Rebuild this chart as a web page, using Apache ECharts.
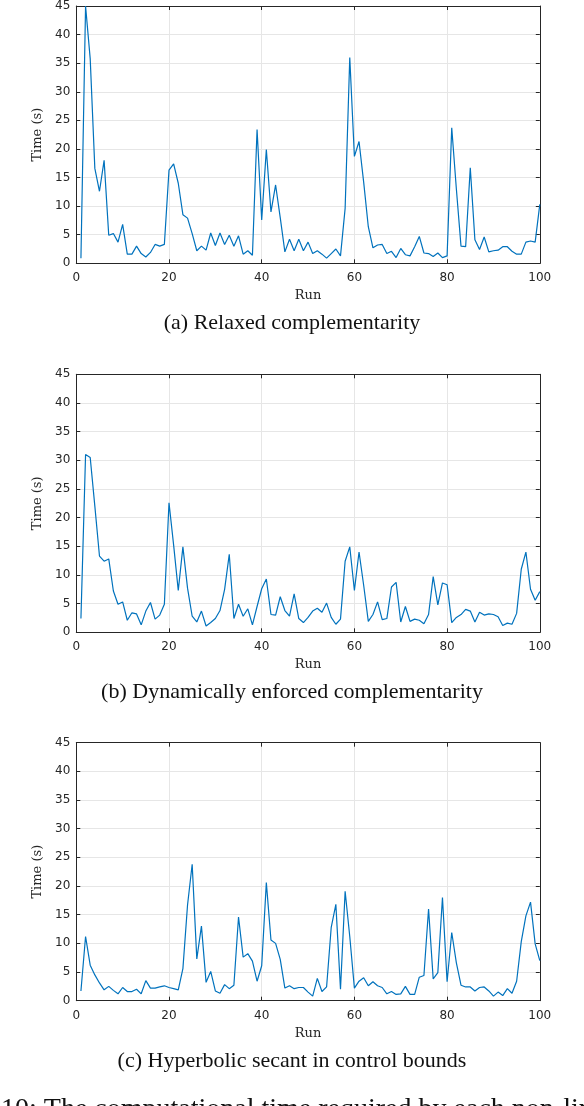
<!DOCTYPE html>
<html>
<head>
<meta charset="utf-8">
<style>
  html, body { margin: 0; padding: 0; background: #ffffff; }
  #chart { width: 584px; height: 1106px; }
</style>
<script src="https://cdn.jsdelivr.net/npm/echarts@6/dist/echarts.min.js"></script>
</head>
<body>
<div id="chart"></div>
<script>
// ---- data ----
const runs = [1,2,3,4,5,6,7,8,9,10,11,12,13,14,15,16,17,18,19,20,
  21,22,23,24,25,26,27,28,29,30,31,32,33,34,35,36,37,38,39,40,
  41,42,43,44,45,46,47,48,49,50,51,52,53,54,55,56,57,58,59,60,
  61,62,63,64,65,66,67,68,69,70,71,72,73,74,75,76,77,78,79,80,
  81,82,83,84,85,86,87,88,89,90,91,92,93,94,95,96,97,98,99,100];

const relaxedTimes = [
  0.9,45.0,35.8,16.6,12.6,18.0,4.9,5.2,3.7,6.8,
  1.6,1.6,3.0,1.7,1.1,1.9,3.3,3.0,3.3,16.3,
  17.4,14.0,8.5,7.9,5.2,2.2,3.0,2.3,5.3,3.1,
  5.3,3.3,4.9,3.0,4.8,1.6,2.2,1.4,23.4,7.6,
  19.9,9.0,13.7,8.0,2.0,4.2,2.2,4.2,2.2,3.7,
  1.7,2.2,1.6,0.9,1.7,2.5,1.3,9.6,36.0,18.7,
  21.3,14.2,6.4,2.7,3.2,3.3,1.7,2.1,1.0,2.6,
  1.5,1.3,2.9,4.7,1.8,1.7,1.2,1.8,1.0,1.3,
  23.7,13.0,3.0,2.9,16.7,4.1,2.4,4.6,2.0,2.2,
  2.3,2.9,2.9,2.1,1.6,1.6,3.7,3.9,3.7,10.3];

const dynamicTimes = [
  2.4,31.0,30.5,22.0,13.3,12.4,12.8,7.2,4.9,5.3,
  2.1,3.4,3.2,1.3,3.7,5.2,2.3,3.0,4.9,22.6,
  15.2,7.3,14.9,7.7,2.8,1.8,3.7,1.1,1.7,2.4,
  3.8,7.5,13.6,2.4,4.9,2.8,4.1,1.3,4.5,7.6,
  9.3,3.1,3.0,6.2,3.8,2.8,6.7,2.4,1.7,2.6,
  3.7,4.2,3.5,5.1,2.6,1.4,2.3,12.4,14.9,7.3,
  14.0,8.2,1.9,3.1,5.3,2.2,2.4,7.9,8.7,1.8,
  4.5,1.9,2.3,2.1,1.5,3.1,9.7,4.8,8.6,8.3,
  1.7,2.6,3.1,4.0,3.7,1.8,3.5,3.0,3.2,3.1,
  2.7,1.2,1.6,1.4,3.3,11.0,14.0,7.5,5.6,7.1];

const sechTimes = [
  1.7,11.2,6.2,4.5,3.1,1.9,2.5,1.8,1.2,2.3,
  1.6,1.6,2.0,1.2,3.5,2.2,2.2,2.4,2.6,2.3,
  2.1,1.9,5.6,16.7,23.8,7.3,13.0,3.2,5.1,1.7,
  1.3,2.8,2.1,2.7,14.6,7.6,8.2,6.9,3.4,6.1,
  20.6,10.6,10.0,7.2,2.2,2.6,2.1,2.3,2.3,1.5,
  0.8,3.9,1.6,2.4,12.8,16.8,2.0,19.1,11.2,2.2,
  3.4,4.0,2.6,3.3,2.6,2.3,1.2,1.6,1.1,1.2,
  2.5,1.1,1.1,4.1,4.4,16.0,3.8,4.9,18.0,3.3,
  11.9,6.6,2.7,2.4,2.4,1.7,2.3,2.4,1.7,0.8,
  1.5,0.9,2.1,1.3,3.4,10.3,14.8,17.2,9.9,7.0];

const xTicks = [0, 20, 40, 60, 80, 100];
const yTicks = [0, 5, 10, 15, 20, 25, 30, 35, 40, 45];

const captions = [
  '(a) Relaxed complementarity',
  '(b) Dynamically enforced complementarity',
  '(c) Hyperbolic secant in control bounds'
];
const figureCaption = '10: The computational time required by each non-linear';
const xName = 'Run';
const yName = 'Time (s)';

// ---- layout / style ----
const seriesList = [relaxedTimes, dynamicTimes, sechTimes];
const gridTops = [5.3, 374.3, 742.7];
const gridLeft = 76.3, gridWidth = 463.5, gridHeight = 258;
const captionY = [323.5, 692, 1061];
const axisColor = '#262626';
const gridColor = '#e6e6e6';
const lineColor = '#0072BD';

const chart = echarts.init(document.getElementById('chart'), null, { renderer: 'canvas' });

const grids = [], xAxes = [], yAxes = [], series = [], graphics = [];

seriesList.forEach((vals, i) => {
  grids.push({ left: gridLeft, top: gridTops[i], width: gridWidth, height: gridHeight,
               containLabel: false, show: false });
  const xMin = xTicks[0], xMax = xTicks[xTicks.length - 1];
  const yMin = yTicks[0], yMax = yTicks[yTicks.length - 1];
  const xInt = xTicks[1] - xTicks[0], yInt = yTicks[1] - yTicks[0];
  xAxes.push({
    type: 'value', gridIndex: i, position: 'bottom', min: xMin, max: xMax, interval: xInt,
    axisLine: { show: true, onZero: false, lineStyle: { color: axisColor, width: 1 } },
    axisTick: { show: true, inside: true, length: 4, lineStyle: { color: axisColor } },
    axisLabel: { show: true, margin: 9, color: axisColor, fontFamily: 'DejaVu Sans', fontSize: 12 },
    splitLine: { show: true, lineStyle: { color: gridColor, width: 1 } },
    name: xName, nameLocation: 'middle', nameGap: 26,
    nameTextStyle: { color: axisColor, fontFamily: 'DejaVu Serif', fontSize: 13 }
  });
  xAxes.push({
    type: 'value', gridIndex: i, position: 'top', min: xMin, max: xMax, interval: xInt,
    axisLine: { show: true, onZero: false, lineStyle: { color: axisColor, width: 1 } },
    axisTick: { show: true, inside: true, length: 4, lineStyle: { color: axisColor } },
    axisLabel: { show: false }, splitLine: { show: false }
  });
  yAxes.push({
    type: 'value', gridIndex: i, position: 'left', min: yMin, max: yMax, interval: yInt,
    axisLine: { show: true, onZero: false, lineStyle: { color: axisColor, width: 1 } },
    axisTick: { show: true, inside: true, length: 4, lineStyle: { color: axisColor } },
    axisLabel: { show: true, margin: 6, color: axisColor, fontFamily: 'DejaVu Sans', fontSize: 12 },
    splitLine: { show: true, lineStyle: { color: gridColor, width: 1 } },
    name: yName, nameLocation: 'middle', nameGap: 29, nameRotate: 90,
    nameTextStyle: { color: axisColor, fontFamily: 'DejaVu Serif', fontSize: 13 }
  });
  yAxes.push({
    type: 'value', gridIndex: i, position: 'right', min: yMin, max: yMax, interval: yInt,
    axisLine: { show: true, onZero: false, lineStyle: { color: axisColor, width: 1 } },
    axisTick: { show: true, inside: true, length: 4, lineStyle: { color: axisColor } },
    axisLabel: { show: false }, splitLine: { show: false }
  });
  series.push({
    type: 'line', xAxisIndex: 2 * i, yAxisIndex: 2 * i,
    data: runs.map((r, k) => [r, vals[k]]),
    showSymbol: false, symbol: 'none', smooth: false,
    lineStyle: { color: lineColor, width: 1.2 },
    emphasis: { disabled: true }, silent: true
  });
  graphics.push({
    type: 'text', x: 292, y: captionY[i],
    style: { text: captions[i], fill: '#111111', font: '22px "Liberation Serif"',
             textAlign: 'center', textVerticalAlign: 'middle' }
  });
});

graphics.push({
  type: 'text', x: 1, y: 1110,
  style: { text: figureCaption, fill: '#111111', font: '28px "Liberation Serif"',
           textAlign: 'left', textVerticalAlign: 'middle' }
});

chart.setOption({
  animation: false,
  backgroundColor: '#ffffff',
  grid: grids,
  xAxis: xAxes,
  yAxis: yAxes,
  series: series,
  graphic: graphics
});
</script>
</body>
</html>
